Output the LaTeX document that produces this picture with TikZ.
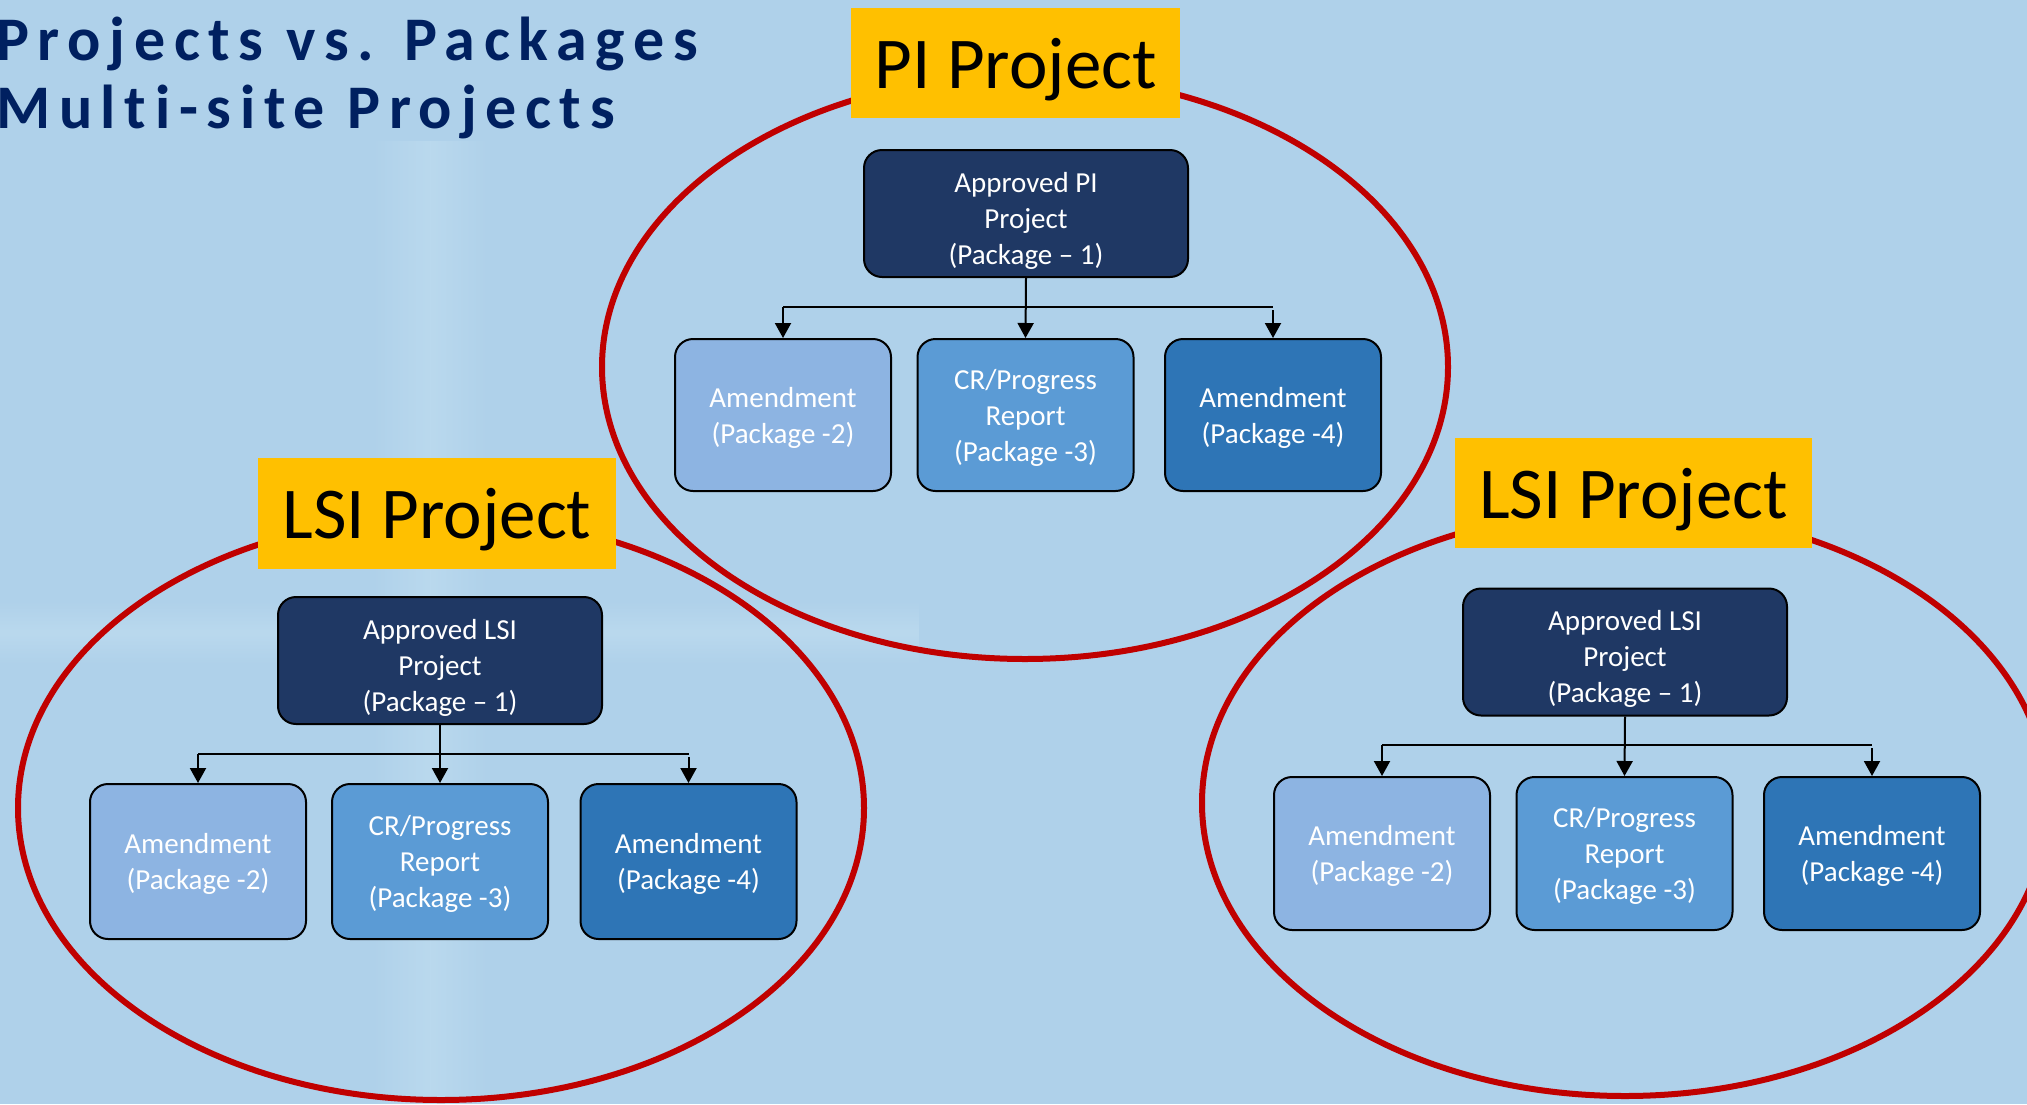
\documentclass[tikz,border=0pt]{standalone}
\usepackage{fontspec}
\setmainfont{Carlito}
\newfontfamily\titlefont[LetterSpace=14,Ligatures={NoCommon}]{Carlito}
\usetikzlibrary{arrows.meta,fadings}
\definecolor{bgblue}{RGB}{175,209,234}
\definecolor{bglight}{RGB}{186,217,238}
\definecolor{navytitle}{RGB}{0,32,96}
\definecolor{topfill}{RGB}{31,56,100}
\definecolor{fillA}{RGB}{141,180,226}
\definecolor{fillB}{RGB}{91,155,213}
\definecolor{fillC}{RGB}{46,117,182}
\definecolor{labelyellow}{RGB}{255,192,0}
\definecolor{ringred}{RGB}{192,0,0}
\tikzfading[name=fadeacross, left color=transparent!100, right color=transparent!100, middle color=transparent!0]
\tikzfading[name=fadeupdown, top color=transparent!100, bottom color=transparent!100, middle color=transparent!0]
\tikzset{
  ring/.style={draw=ringred, line width=6pt},
  labelbox/.style={fill=labelyellow, inner sep=0, text=black, text depth=0pt,
    font=\fontsize{73}{80}\selectfont},
  pkgbox/.style={draw=black, line width=2pt, rounded corners=18pt, inner sep=0,
    text=white, align=center, text depth=0pt, font=\fontsize{29}{36}\selectfont},
  topbox/.style={pkgbox, fill=topfill, minimum width=324pt, minimum height=127pt, text height=101pt},
  childA/.style={pkgbox, fill=fillA, minimum width=216pt},
  childB/.style={pkgbox, fill=fillB, minimum width=216pt},
  childC/.style={pkgbox, fill=fillC, minimum width=216pt},
  bar/.style={draw=black, line width=1.3pt},
  arr/.style={draw=black, line width=2pt, -{Triangle[length=15pt,width=16pt]}},
  titletext/.style={anchor=base west, inner sep=0, text=navytitle,
    font=\titlefont\bfseries\fontsize{62}{68}\selectfont}
}
\begin{document}
\begin{tikzpicture}[x=1pt,y=-1pt]
\path[use as bounding box, clip] (0,0) rectangle (2027,1104);
\fill[bgblue] (0,0) rectangle (2027,1104);
% faint watermark bands
\fill[bglight, path fading=fadeacross] (370,140) rectangle (490,1104);
\fill[bglight, path fading=fadeupdown] (0,600) rectangle (920,665);

% title
\node[titletext] (title1) at (-4,60) {Projects vs. Packages};
\node[titletext] (title2) at (-4,128) {Multi-site Projects};

% ===== PI project =====
\draw[ring] (1025,367) ellipse [x radius=423, y radius=292];
\node[labelbox, minimum width=329pt, minimum height=110pt] (pilabel) at (1015.5,63) {PI Project};
\node[topbox] (ptop) at (1026,213.5) {Approved PI\\Project\\(Package -- 1)};
\node[childA, minimum height=152pt] (pA) at (783,415) {Amendment\\(Package -2)};
\node[childB, minimum height=152pt] (pB) at (1025.5,415) {CR/Progress\\Report\\(Package -3)};
\node[childC, minimum height=152pt] (pC) at (1273,415) {Amendment\\(Package -4)};
\coordinate (pbar) at (1025,307);
\draw[bar] (pbar -| pA.north) -- (pbar -| pC.north);
\draw[arr] (ptop.south) -- (pB.north);
\draw[arr] (pbar -| pA.north) -- (pA.north);
\draw[arr] ([yshift=-3pt]pbar -| pC.north) -- (pC.north);

% ===== LSI project left =====
\draw[ring] (441,808) ellipse [x radius=423, y radius=292];
\node[labelbox, minimum width=358pt, minimum height=111pt] (llabel) at (437,513.5) {LSI Project};
\node[topbox] (ltop) at (440,660.5) {Approved LSI\\Project\\(Package -- 1)};
\node[childA, minimum height=155pt] (lA) at (198,861.5) {Amendment\\(Package -2)};
\node[childB, minimum height=155pt] (lB) at (440,861.5) {CR/Progress\\Report\\(Package -3)};
\node[childC, minimum height=155pt] (lC) at (688.5,861.5) {Amendment\\(Package -4)};
\coordinate (lbar) at (440,754);
\draw[bar] (lbar -| lA.north) -- (lbar -| lC.north);
\draw[arr] (ltop.south) -- (lB.north);
\draw[arr] (lbar -| lA.north) -- (lA.north);
\draw[arr] ([yshift=-3pt]lbar -| lC.north) -- (lC.north);

% ===== LSI project right =====
\draw[ring] (1625,803) ellipse [x radius=423, y radius=293];
\node[labelbox, minimum width=357pt, minimum height=110pt] (rlabel) at (1633.5,493) {LSI Project};
\node[topbox] (rtop) at (1625,652) {Approved LSI\\Project\\(Package -- 1)};
\node[childA, minimum height=153pt] (rA) at (1382,853.5) {Amendment\\(Package -2)};
\node[childB, minimum height=153pt] (rB) at (1624.5,853.5) {CR/Progress\\Report\\(Package -3)};
\node[childC, minimum height=153pt] (rC) at (1872,853.5) {Amendment\\(Package -4)};
\coordinate (rbar) at (1625,745);
\draw[bar] (rbar -| rA.north) -- (rbar -| rC.north);
\draw[arr] (rtop.south) -- (rB.north);
\draw[arr] (rbar -| rA.north) -- (rA.north);
\draw[arr] ([yshift=-3pt]rbar -| rC.north) -- (rC.north);
\end{tikzpicture}
\end{document}
